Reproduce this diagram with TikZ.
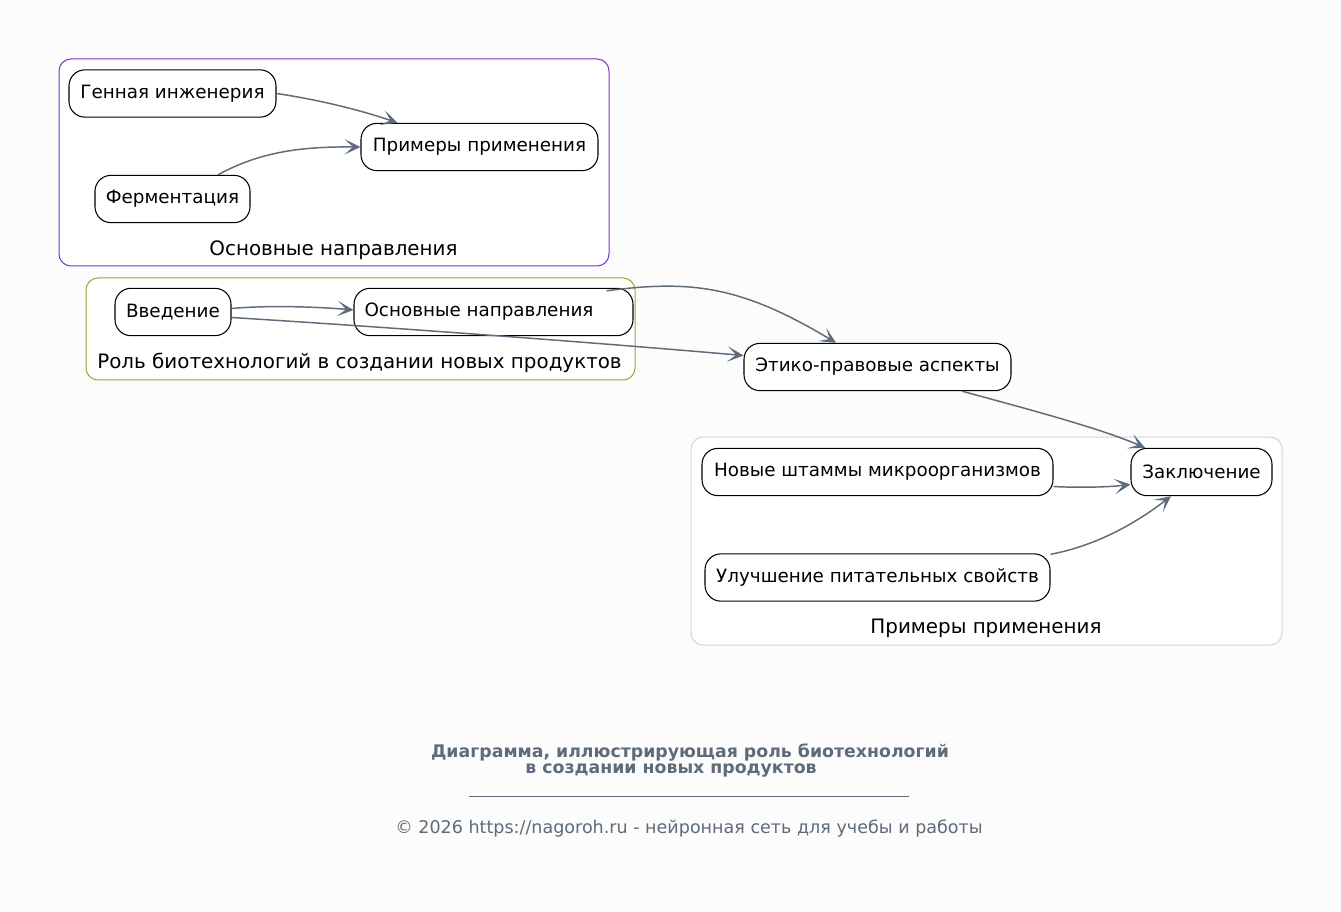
\documentclass[tikz,border=0pt]{standalone}
\usepackage{fontspec}
\setmainfont{DejaVu Sans}
\usetikzlibrary{arrows.meta,calc}
\definecolor{bgc}{HTML}{FCFCFC}
\definecolor{edgec}{HTML}{5D6B7A}
\definecolor{purp}{HTML}{7E33C8}
\definecolor{grn}{HTML}{86B03A}
\definecolor{lgray}{HTML}{D4D4D4}
\tikzset{
  box/.style={draw=black, line width=0.8pt, rounded corners=12pt, fill=white, inner sep=0pt, minimum height=35.5pt, font=\fontsize{13.75}{15}\selectfont},
  cluster/.style={rounded corners=9pt, line width=0.75pt, fill=white},
  clab/.style={font=\fontsize{14.9}{16}\selectfont, inner sep=0pt},
  conn/.style={draw=edgec, line width=1.1pt, -{Stealth[length=12pt,width=11.5pt,inset=6.5pt]}},
}
\begin{document}
\begin{tikzpicture}[x=0.75pt,y=-0.75pt]
\useasboundingbox[fill=bgc] (0,0) rectangle (1341,912);
% clusters
\draw[cluster, draw=purp] (59,59) rectangle (609,266);
\node[clab] (c1) at (333.5,250) {Основные направления};
\draw[cluster, draw=grn] (86,278) rectangle (635,380);
\node[clab] (c2) at (359.5,363) {Роль биотехнологий в создании новых продуктов};
\draw[cluster, draw=lgray] (691,437) rectangle (1282,645);
\node[clab] (c3) at (986,628) {Примеры применения};
% nodes
\node[box, minimum width=155.25pt] (gen) at (172.5,93.5) {Генная инженерия};
\node[box, minimum width=177.75pt] (prim) at (479.5,147) {Примеры применения};
\node[box, minimum width=116.25pt] (ferm) at (172.5,199) {Ферментация};
\node[box, minimum width=87pt] (vved) at (173,312) {Введение};
\node[box, minimum width=209.25pt] (osn) at (493.5,312) {Основные направления\hspace*{21.75pt}};
\node[box, minimum width=200.25pt] (eth) at (877.5,367) {Этико-правовые аспекты};
\node[box, minimum width=263.25pt] (nov) at (877.5,472) {Новые штаммы микроорганизмов};
\node[box, minimum width=105.75pt] (zak) at (1201.5,472) {Заключение};
\node[box, minimum width=258.75pt] (ul) at (877.5,577.5) {Улучшение питательных свойств};
% connectors
\draw[conn] (gen.east) .. controls (320,100) and (360,110) .. ($(prim.north west)+(37,0)$);
\draw[conn] ($(ferm.north)+(45.5,0)$) .. controls (260,152) and (300,146.5) .. (prim.west);
\draw[conn] ($(vved.east)+(0,-3.5)$) .. controls (270,305) and (320,307) .. ($(osn.west)+(0,-2)$);
\draw[conn] ($(vved.east)+(0,5.5)$) .. controls (400,328) and (600,343) .. ($(eth.west)+(0,-11.5)$);
\draw[conn] ($(osn.north east)+(-27,3)$) .. controls (690,280) and (740,285) .. ($(eth.north)+(-41.5,0)$);
\draw[conn] ($(eth.south)+(84.5,0)$) .. controls (1020,407) and (1100,428) .. ($(zak.north)+(-56.5,0)$);
\draw[conn] ($(nov.east)+(0,14.5)$) .. controls (1080,488) and (1110,487) .. ($(zak.west)+(0,12.5)$);
\draw[conn] ($(ul.north east)+(0,1)$) .. controls (1100,545) and (1140,520) .. ($(zak.south)+(-30.5,0)$);
% title and footer
\node[font=\bfseries\fontsize{13}{15}\selectfont, text=edgec, inner sep=0pt] (t1) at (690,752) {Диаграмма, иллюстрирующая роль биотехнологий};
\node[font=\bfseries\fontsize{13}{15}\selectfont, text=edgec, inner sep=0pt] (t2) at (671,771) {в создании новых продуктов};
\coordinate (ulA) at (469,796);
\coordinate (ulB) at (909,796);
\draw[edgec, line width=0.75pt] (ulA) -- (ulB);
\node[font=\fontsize{13.15}{15}\selectfont, text=edgec, inner sep=0pt] (foot) at (689,829) {© 2026 https://nagoroh.ru - нейронная сеть для учебы и работы};
\end{tikzpicture}
\end{document}
